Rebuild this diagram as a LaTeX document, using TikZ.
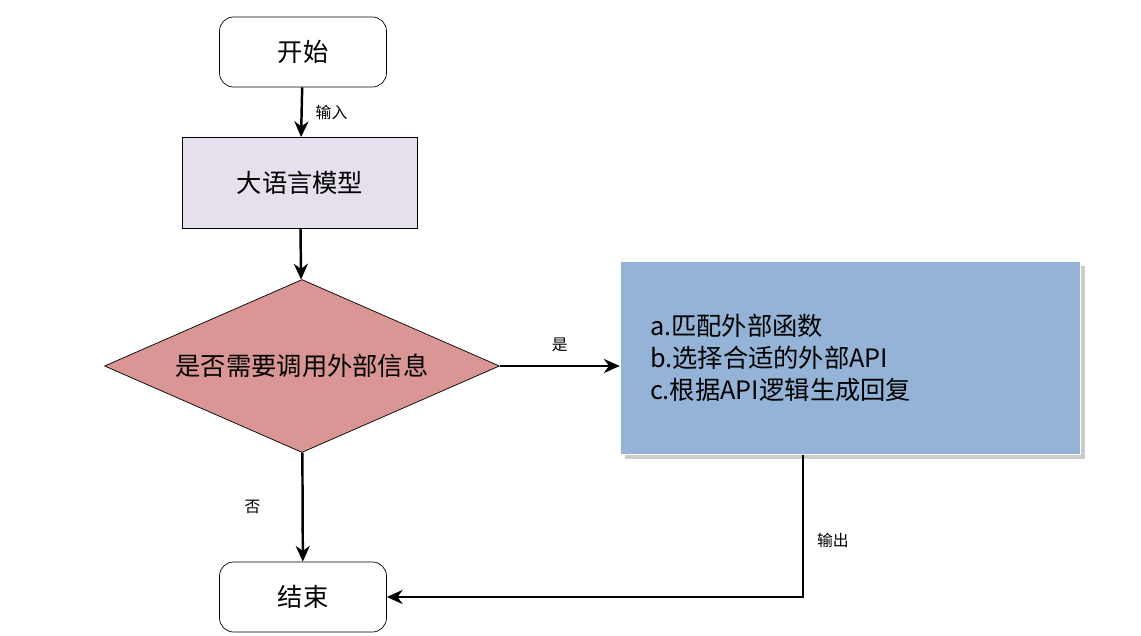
\documentclass[tikz,border=0pt]{standalone}
\usepackage{fontspec}
\setmainfont{Noto Sans CJK SC}
\usetikzlibrary{shapes.geometric,arrows.meta,shadows}
\definecolor{llmfill}{HTML}{E5E0EC}
\definecolor{decfill}{HTML}{D99694}
\definecolor{apifill}{HTML}{95B3D7}
\tikzset{
	term/.style={draw,rounded corners=8pt,minimum width=3.34cm,minimum height=1.4cm,font=\Large,fill=white},
	arr/.style={-{Stealth[length=9pt,width=8pt]},line width=1.4pt},
	lbl/.style={font=\small}
}
\begin{document}
\begin{tikzpicture}[x=0.02cm,y=-0.02cm]
			\useasboundingbox (0,0) rectangle (1141,635);
			
			\node[term] (start) at (303,52) {开始};
			\node[draw,fill=llmfill,minimum width=4.7cm,minimum height=1.82cm,font=\Large] (llm) at (300,183) {大语言模型};
			\node[draw,diamond,aspect=2.28,fill=decfill,minimum width=7.9cm,minimum height=3.46cm,inner sep=0pt,font=\Large] (dec) at (302,366) {是否需要调用外部信息};
			\node[draw=white,fill=apifill,minimum width=9.2cm,minimum height=3.86cm,drop shadow={opacity=0.4},
				align=left,font=\Large,text width=8cm] (api) at (850,358) {a.匹配外部函数\\b.选择合适的外部API\\c.根据API逻辑生成回复};
			\node[term] (end) at (303,597) {结束};
			
			\draw[arr] (start) -- (llm) node[lbl,midway,right=4pt] {输入};
			\draw[arr] (llm) -- (dec);
			\draw[arr] (dec.east) -- (dec.east -| api.west) node[lbl,pos=0.5,above=4pt] {是};
			\draw[arr] (dec) -- (end) node[lbl,midway,left=20pt] {否};
			\draw[arr] (api.south -| 803,0) |- (end) node[lbl,pos=0.3,right=4pt] {输出};
			
\end{tikzpicture}
\end{document}
